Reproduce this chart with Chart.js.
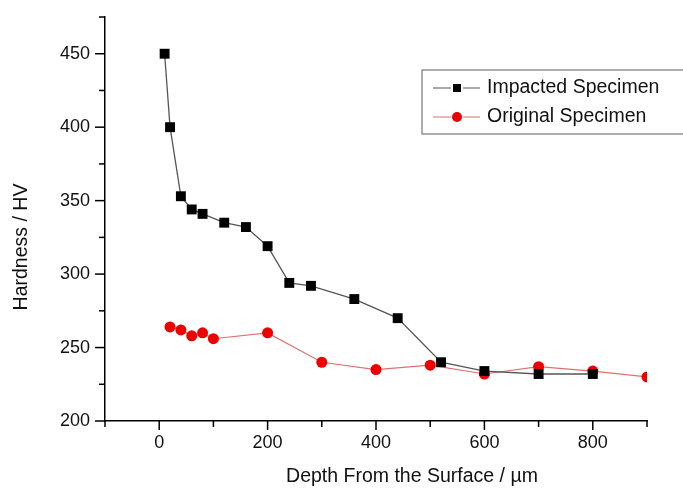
<!DOCTYPE html>
<html>
<head>
<meta charset="utf-8">
<script src="https://cdn.jsdelivr.net/npm/chart.js@4.4.0/dist/chart.umd.min.js"></script>
<style>
html,body{margin:0;padding:0;background:#fff;}
#wrap{width:683px;height:488px;position:relative;}
</style>
</head>
<body>
<div id="wrap"><canvas id="c"></canvas></div>
<script>
// Data
const impactedDepth = [10, 20, 40, 60, 80, 120, 160, 200, 240, 280, 360, 440, 520, 600, 700, 800];
const impactedHardness = [450, 400, 353, 344, 341, 335, 332, 319, 294, 292, 283, 270, 240, 234, 232, 232];
const originalDepth = [20, 40, 60, 80, 100, 200, 300, 400, 500, 600, 700, 800, 900];
const originalHardness = [264, 262, 258, 260, 256, 260, 240, 235, 238, 232, 237, 234, 230];
const seriesNames = ["Impacted Specimen", "Original Specimen"];
const xLabelValues = [0, 200, 400, 600, 800];
const yLabelValues = [200, 250, 300, 350, 400, 450];
const xTitle = 'Depth From the Surface / µm';
const yTitle = 'Hardness / HV';

const FONT = "'Liberation Sans', Arial, sans-serif";

function pts(xs, ys){ return xs.map((x,i)=>({x:x, y:ys[i]})); }

const tickPlugin = {
  id: 'customTicks',
  afterDraw(chart){
    const ctx = chart.ctx;
    const xs = chart.scales.x, ys = chart.scales.y;
    ctx.save();
    ctx.strokeStyle = '#000';
    ctx.lineWidth = 1.5;
    xs.ticks.forEach(t=>{
      const px = xs.getPixelForValue(t.value);
      const len = xLabelValues.includes(t.value) ? 9 : 6;
      ctx.beginPath(); ctx.moveTo(px, xs.top); ctx.lineTo(px, xs.top + len); ctx.stroke();
    });
    ys.ticks.forEach(t=>{
      const py = ys.getPixelForValue(t.value);
      const len = yLabelValues.includes(t.value) ? 10 : 6;
      ctx.beginPath(); ctx.moveTo(ys.right, py); ctx.lineTo(ys.right - len, py); ctx.stroke();
    });
    // axis titles
    ctx.fillStyle = '#111';
    ctx.font = '19.5px ' + FONT;
    ctx.textAlign = 'center';
    ctx.textBaseline = 'middle';
    ctx.fillText(xTitle, 412, 477);
    ctx.save();
    ctx.translate(22, 247);
    ctx.rotate(-Math.PI/2);
    ctx.fillText(yTitle, 0, 0);
    ctx.restore();
    // legend box
    const bx = 422, by = 70, bw = 300, bh = 64;
    ctx.strokeStyle = '#777';
    ctx.lineWidth = 1.2;
    ctx.strokeRect(bx, by, bw, bh);
    ctx.font = '19.5px ' + FONT;
    ctx.textAlign = 'left';
    ctx.textBaseline = 'middle';
    const rows = [88, 117];
    chart.data.datasets.forEach((ds, i)=>{
      const y = rows[i];
      ctx.strokeStyle = ds.borderColor;
      ctx.lineWidth = 1.2;
      ctx.beginPath(); ctx.moveTo(433, y); ctx.lineTo(451, y); ctx.moveTo(463, y); ctx.lineTo(480, y); ctx.stroke();
      ctx.fillStyle = ds.pointBackgroundColor;
      if (ds.pointStyle === 'rect') {
        ctx.fillRect(453, y-4, 8, 8);
      } else {
        ctx.beginPath(); ctx.arc(457, y, 5, 0, Math.PI*2); ctx.fill();
      }
      ctx.fillStyle = '#111';
      ctx.fillText(ds.label, 487, y);
    });
    ctx.restore();
  }
};

new Chart(document.getElementById('c'), {
  type: 'scatter',
  data: {
    datasets: [
      {
        label: seriesNames[0],
        data: pts(impactedDepth, impactedHardness),
        showLine: true,
        borderColor: '#555555',
        borderWidth: 1.3,
        pointStyle: 'rect',
        pointRadius: 7,
        pointHoverRadius: 7,
        pointBackgroundColor: '#000000',
        pointBorderColor: '#000000',
        pointBorderWidth: 0
      },
      {
        label: seriesNames[1],
        data: pts(originalDepth, originalHardness),
        showLine: true,
        borderColor: '#e07070',
        borderWidth: 1.2,
        pointStyle: 'circle',
        pointRadius: 5.5,
        pointHoverRadius: 5.5,
        pointBackgroundColor: '#ee0000',
        pointBorderColor: '#ee0000',
        pointBorderWidth: 0
      }
    ]
  },
  options: {
    responsive: true,
    maintainAspectRatio: false,
    animation: false,
    layout: { padding: { top: 17, right: 36, left: 0, bottom: 0 } },
    plugins: { legend: { display: false }, tooltip: { enabled: false } },
    scales: {
      x: {
        type: 'linear',
        min: -100, max: 900,
        ticks: {
          stepSize: 100,
          padding: 11,
          color: '#111',
          font: { family: FONT, size: 18 },
          callback: v => xLabelValues.includes(v) ? String(v) : ''
        },
        grid: { display: true, drawOnChartArea: false, drawTicks: false },
        border: { display: true, color: '#000', width: 1.5 },
        title: { display: false },
        afterFit(s){ s.height = 67; s.paddingLeft = 0; s.paddingRight = 0; }
      },
      y: {
        type: 'linear',
        min: 200, max: 475,
        ticks: {
          stepSize: 25,
          padding: 15,
          color: '#111',
          font: { family: FONT, size: 18 },
          callback: v => yLabelValues.includes(v) ? String(v) : ''
        },
        grid: { display: true, drawOnChartArea: false, drawTicks: false },
        border: { display: true, color: '#000', width: 1.5 },
        title: { display: false },
        afterFit(s){ s.width = 105; s.paddingTop = 0; s.paddingBottom = 0; }
      }
    }
  },
  plugins: [tickPlugin]
});
</script>
</body>
</html>
